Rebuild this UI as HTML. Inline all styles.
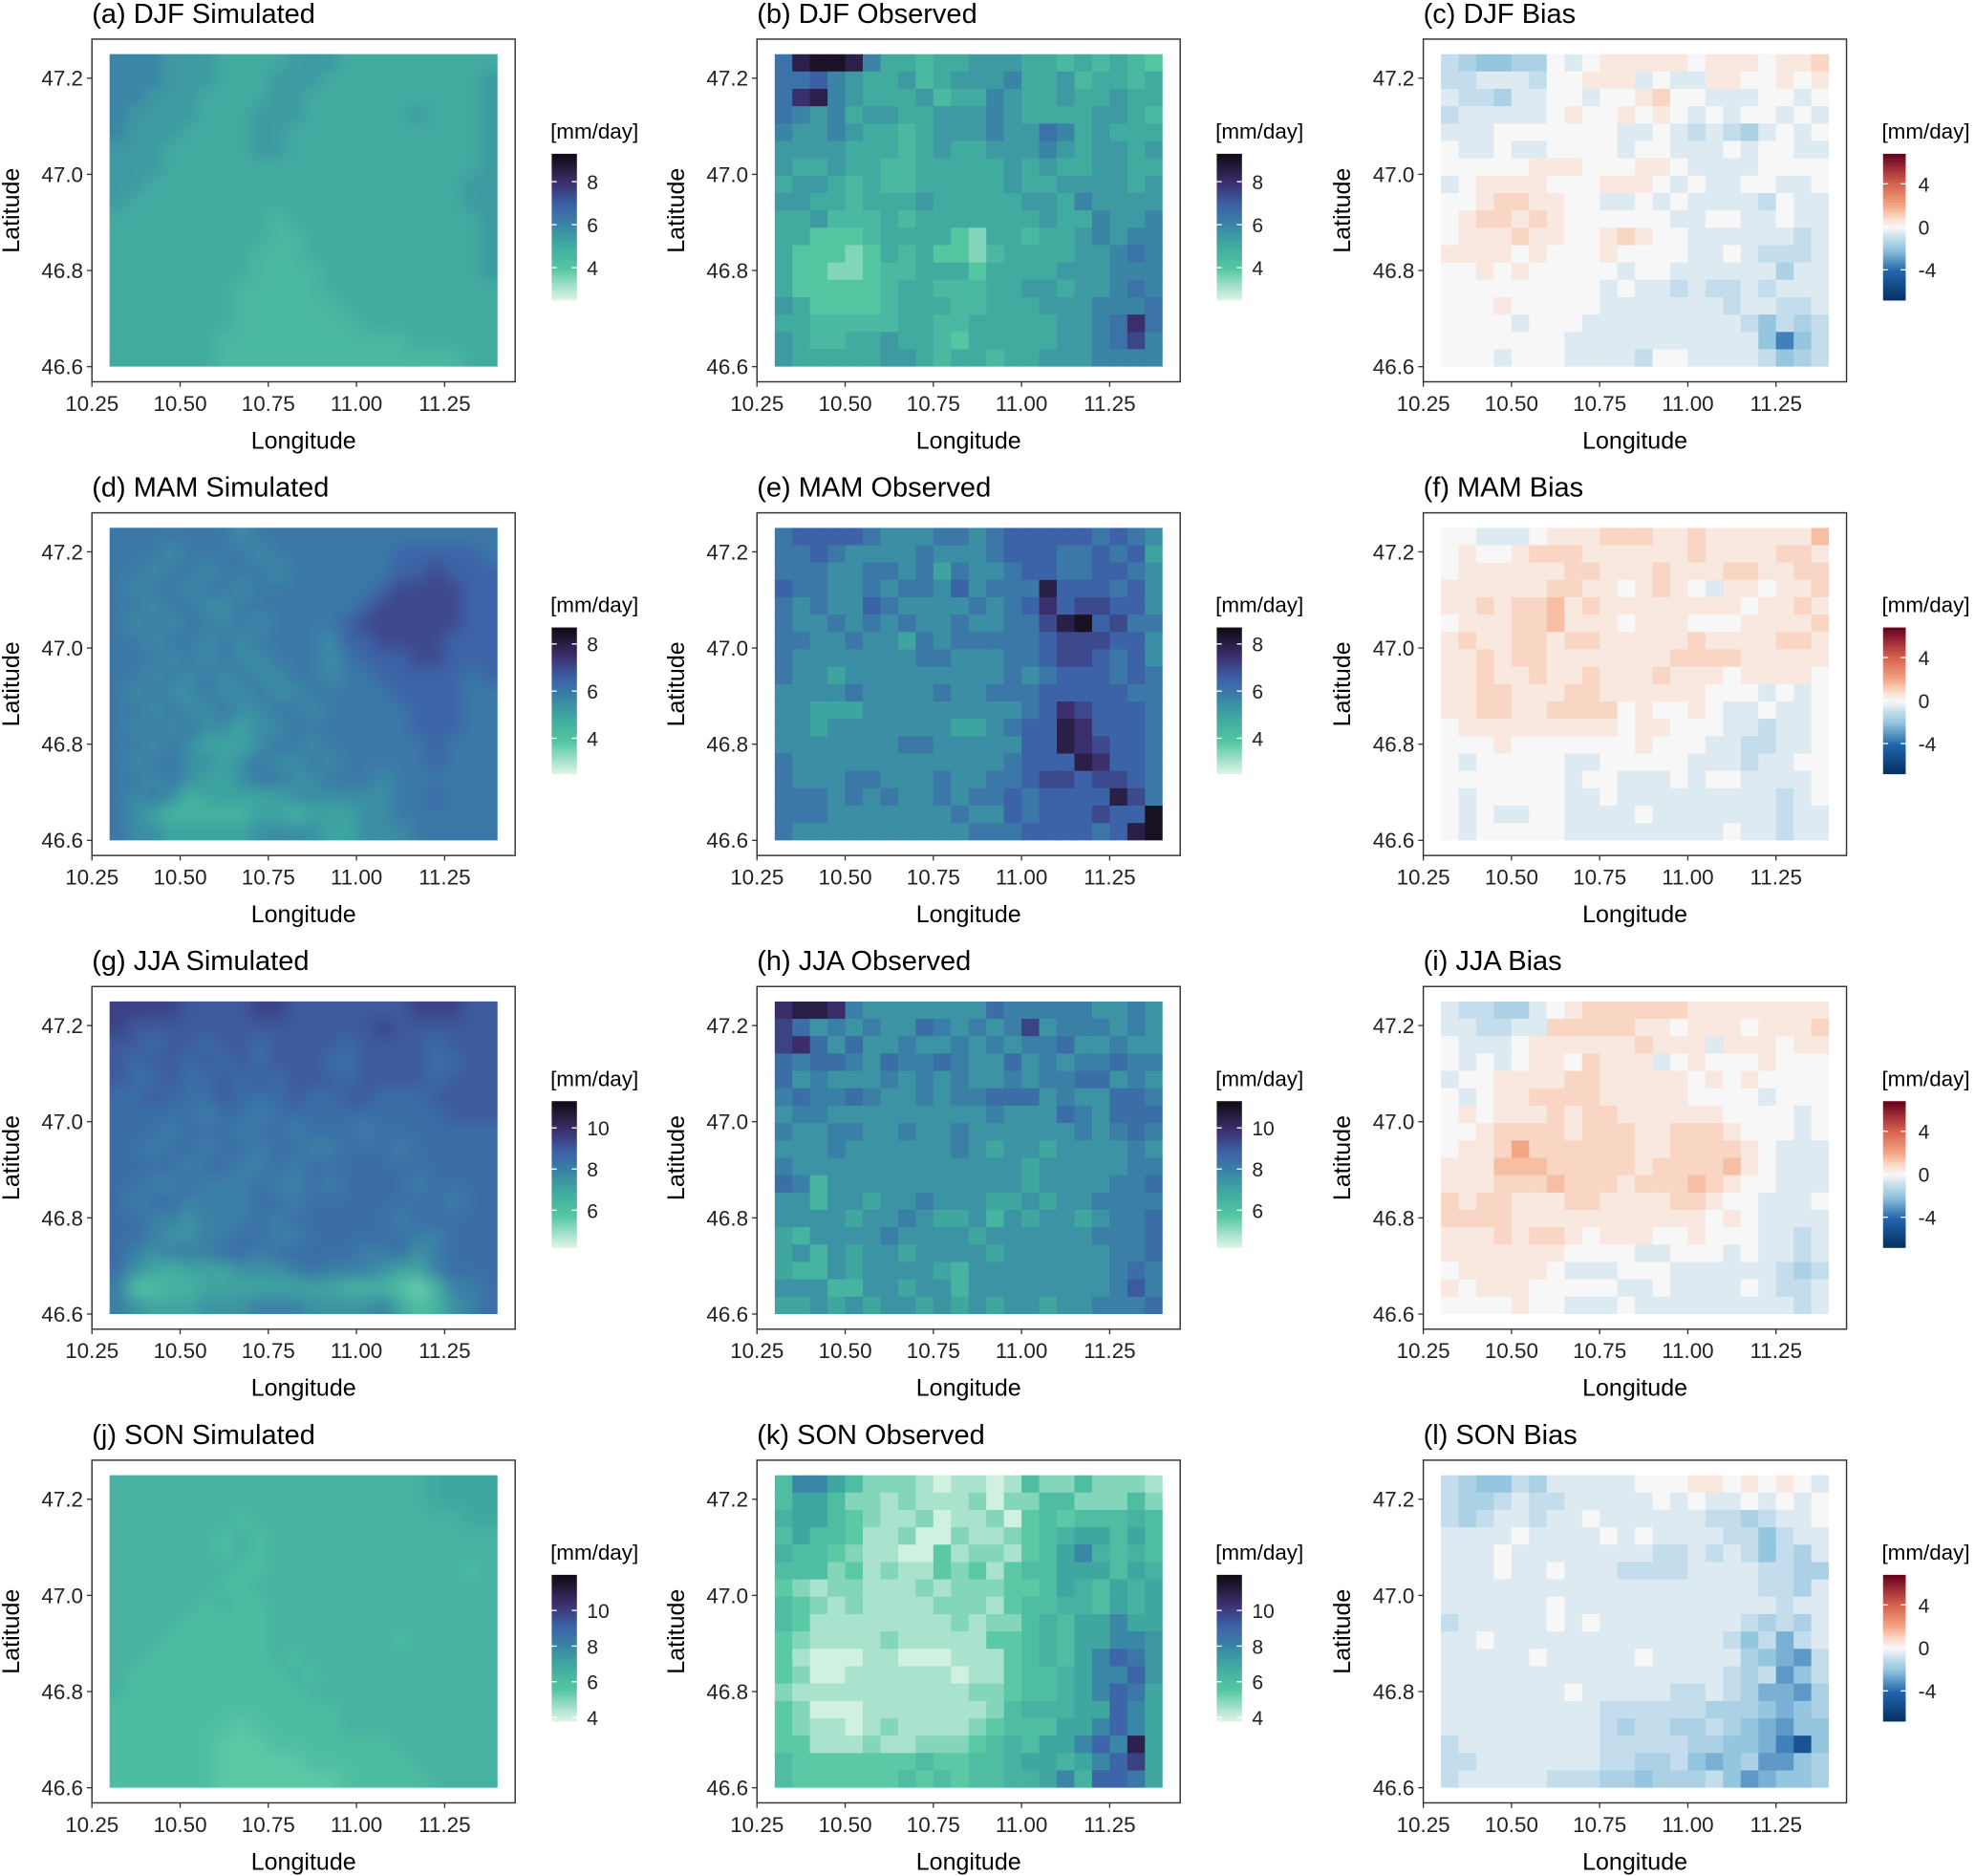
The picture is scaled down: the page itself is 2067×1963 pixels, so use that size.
<!DOCTYPE html>
<html><head><meta charset="utf-8"><title>Seasonal precipitation maps</title>
<style>
html,body{margin:0;padding:0;background:#fff;}
svg{display:block;font-family:"Liberation Sans",Arial,sans-serif;}
</style></head>
<body>
<svg id="fig" xmlns="http://www.w3.org/2000/svg" width="2067" height="1963" viewBox="0 0 1568 1489">
<defs>
<filter id="smooth" x="-10%" y="-10%" width="120%" height="120%"><feGaussianBlur stdDeviation="6"/></filter>
</defs>
</svg>
<script>
// ---- data (value grids encoded: index in ALPH * 0.5 ; bias subtract 6) ----
const ALPH = "0123456789abcdefghijklmnopqrstuvwxyz";
const panelTitles = ["(a) DJF Simulated","(b) DJF Observed","(c) DJF Bias","(d) MAM Simulated","(e) MAM Observed","(f) MAM Bias","(g) JJA Simulated","(h)  JJA Observed","(i) JJA Bias","(j) SON Simulated","(k) SON Observed","(l) SON Bias"];
const seasonRanges = [[2.5,9.3],[2.5,8.7],[4.2,11.3],[3.8,12]];
const seasonTicks = [[4,6,8],[4,6,8],[6,8,10],[4,6,8,10]];
const biasRange = [-6.8,6.8];
const biasTicks = [-4,0,4];
const lonTicks = [10.25,10.50,10.75,11.00,11.25];
const latTicks = [46.6,46.8,47.0,47.2];
const lonRange = [10.30,11.40];
const latRange = [46.60,47.25];

const gridA = ["cccbbbaaaabbbaaaaaaaaa","cccbbbaaabbbaaaaaaaaab","ccbbbaaaabbaaaaaaaaaab","cbbbbaaabbbaaaaaabaaab","cbbbaaaabbaaaaaaaaaaab","bbbaaaaabbaaaaaaaaaaab","bbbaaaaaaaaaaaaaaaaaab","bbaaaaaaaaaaaaaaaaaabb","baaaaaaaaaaaaaaaaaaabb","aaaaaaaaa9aaaaaaaaaaab","aaaaaaaaa99aaaaaaaaaab","aaaaaaaa999aaaaaaaaaab","aaaaaaaa9999aaaaaaaaab","aaaaaaa99999aaaaaaaaaa","aaaaaaa999999aaaaaaaaa","aaaaaaa9999999aaaaaaaa","aaaaaa99999999999aaaaa","aaaaaa99999999999999aa"];
const gridB = ["dhiihcaa9aabbbaa9a9a98","ddecbaab9abbbcaab9aa9a","dghcbaaab9aacbaabaabaa","dcbcabbaabbbcbaaaabba9","cbbcbaa9abbbcbbdcabaaa","bbbbaaa9abaabbbcbabbab","baabaa99aaaaababaabbaa","abba9a99aaaaabaabbbbab","bbaa9aaabaaaaabbacbbbb","aab999a9aaaaaaabaacbbc","aa8889aaaa87aa9aabcbcc","a88878a9a8879aaaabbcdc","a8877899aaa8aaaabbbccc","a888889aa999aabbabbcdc","ba88889aaa99aaabbbcccd","aa99999aa99aaaaabbcdgd","ba99aabaa98aaaaabbcdfc","baaaaabba9aa9aabbbcccc"];
const gridC = ["a98899cbcdddddcdddcdde","aabbbaccdddbcbbddccdcd","baa9bbccbccdeccbbbccbc","abbbbbcdccdcdcbcbccbcb","bbbcccccccbbcbaba9bcbc","cbbcbbccccbccbbbcbccbb","cccccdddcccddcbbbbcccc","bcddddcccdddcbcbbccbbc","ccdeeddccbbcbcbbbbacbb","cdeededccccccbbccbbcbb","cdddeddccdedccbbbbbbab","ddddcdcccdccccbbcbaaab","ccdcdcccccbccbbbbbb9bb","cccccccccbcbbabaababbb","cccdcccccbbbbbbbabbaab","ccccbcccbbbbbbbbba8a9a","cccccccbbbbbbbbbbb858a","cccbcccbbbbaccbbbba89a"];
const gridD = ["cccccccbcccccccccccccc","cccbccccbcccccccdddddc","ccbccbcccbccccccddeddd","cbccbccbcccccccdeeeedd","ccbccbbcccccccdeeeeedd","cbcbccbcbccccdeeeeeedd","ccbccbcbccccbddeeeeddd","cccbcbcbbcccbcdddeeddd","ccbcbcbcbbccbccdddddcd","cbcbbcbbcbbcccccddddcc","ccbcbbcbbccbcccccdddcc","cbcbcbbabbcccccccdddcc","ccbcbaaabccbccccccdccc","cbccbbabcbbcbcccccdccc","ccbcbaabccbbcccbcccccc","cbcb9aaaaabbbbbbccdccc","cba99999aa9aaabbcccccc","cbbaaaaabbbbaabbbccccc"];
const gridE = ["cddddcbbbccbcdddddcdcb","ccdcbbbbcbbbcdddccdcda","cccbbccbcacbbcddccddcb","dccbbcbccbdbcccgdddcdb","cbcbbdcbbbbcbcdfdeeddb","cbbcbcbcbbcbbcceghdecc","ccbbcbbacbcccccdeeeddb","cbbbbbbbccbbbccdeedcdb","cbbabbbbbbbbbcbcdddcdc","bbbbcbbbbcbbcccdddddcc","bbaaabbbbbbbbbcdfedddc","bbabbbbbbbaabcddgfdddc","bbbbbbbccbbbbbddgfeddc","cbbbbbbbbbbbbcdddgfddc","cbbbccbbbcbbccdeedeedc","cccbcbcbbcbccdcddddgec","cccbbbbbbbcbbdcdddeddh","cbbbbbbbbbbcccddddcdgh"];
const gridF = ["ccbbbcdddeeeddeddddddf","cdccdeeeddddddeddddeed","cddddddeedddedddeeddee","ddddddeeddcdedcbddcdde","ddedeefdeddddddddcdded","cdddeefdddcdddcccdddde","deddeedeedddddeddddeed","ddedeedddddddeeeeddddd","ddeddeddedddedddcddddc","ddeedddeeddddddcccbcbc","ddeeddeeeecdccdcbbcbbc","cdddddddddcddcccbbabbc","cccdcccccccdcccbbaabbc","cbcccccbbcccccbbbabbcc","cccccccbccbbbcbccbbbbc","cbcccccbbcbbbbbbbbbabc","cbcbbccbbbbcbbbbbbbabb","cbcccccbbbbbbbbbcbbabb"];
const gridG = ["jjjjiiiijjiiiiiiijjjii","jiiiiiiiiiiiiiijiiiiii","iihiihiihiiiihiiiihiii","ihiihihihiiihhiiiihhii","ihhihhihihiiihiiiihiii","hhihhhihhhihhiihhhiiii","hhhhhghhghhhhhhhhhhiii","hhhghhhghhghhhghhhhhhh","hhghhghhghhgghhhghhhhh","hhhhghhgghghhhhhhhhhhh","hhgghggghgghghhhhghhhh","hghhgggghhghhhhhhhhghh","hhggfggghghhhhhhghhhhh","hhgffgghhgghhhhhhgghhh","hgfggghhghhhhhgghfghhh","hfedeeefffghgggfeeghhh","gccddeeeeeeeedddcbdggh","gfeeefffgggffffgecdfgh"];
const gridH = ["kllkgfffffffhgggggffgf","jhfgfgffhgfgfgjfgggfgf","jkhfhffgffgfgfgghffgff","hghhgfhgghgffhfgfgghgg","hfgfffgfgfgffgfgghhfgf","ghgghgffgfgghhhfgffhhg","fggfffffffffgfffhgfhhh","gffggffgffgffffffgfghg","fffgffffffgfeffeffffgf","gfffffffffffffefffffgg","hgdfffffffffffeffffggh","ffdffeffgfffeefeffgggg","ffffeffgfeefdfeffefggh","edffffgffffeffffffgggh","efdfeffeffffeffffffggh","eddfeffffedffffffffghg","fffddffeffdffffffffgig","eefefeffefefeffeffgggh"];
const gridI = ["baa99bcdeeeeeedddddddd","bbaabbeeeeeddcdddcddde","cbbbcddddddedddbdddcdd","cbcbcddcedddbcdcccdccc","bccddddeedddddcdcdcccc","cbcddeeeedddddccccbccc","cdcdddedeeddddddccccbc","ccdeeeedeeeddeeedcccbc","cddegeeeeeeddeeeedcbbb","dddfffeeeeedeeeefdcbbb","dddeeefeeedeeefedccbbb","edeedddeeddddeedccbbbc","eeeedddddddddddcdcbbbb","dddedeedcdddccdcccbbab","dddddddccccbbcccbcbbab","cdddddcbbbcccbbbbbba9a","dcdddcccccbbcbbbbcbaab","ccccdccbbbcbbbbbbbbbab"];
const gridJ = ["ddddddddddddddddddeeee","ddddddddddddddddddeeee","dddddddcddddddddddddee","ddddddcdcddddddddddddd","ddddddcdcddddddddddddd","dddddddccdddddddddddcd","ddddddccdddddddddddddd","dddddcdccddddddddddddd","ddddcccccddddddddddddd","dddccccccdddddddcddddd","ddcccccccdcddddddddddd","dcccccccccdcdddddddddd","dccccccccccddddddddddd","cccccccccccccddddddddd","cccccccbcccccddddddddd","ccccccbbbcccccccdddddd","ccccccbbbbbccccccddddd","ccccccbbbbbbbcccccdddd"];
const gridK = ["cggecaaa989989caacaaa9","ceecaa9a999a8aaccaaaca","deecba99a899a8bcbcccdc","ceccb99a88a99abcdeecec","dccba9988b9aa9bcegdcdc","cccab9a99bab9bcceeeced","ba9aa999a9aaabbcedcede","cba9a9999aaa9bccddcede","cb99999999a9aacdceegee","ba9999a99999bbcdceeggf","b988899888999bcdcegihf","ba88999999899bccdeggif","a9999999999aabccdegihe","ba8889999999acdddeeige","ba9989a9999abccceegige","bb999a99aaabcdceegigme","cbbbbbbbcbbccdeedegike","cbbbbbbcbcbccddegdiihe"];
const gridL = ["a988a9bbbbbcccddcdcdcb","a99abaabbbbbcbcbbcbcbc","a9abbabbcbbbbbbaa9abbc","bbbbcbbbbcbcbbbbaa8abb","bbbcbbbbbbbbaababa8a9b","bbbcbbcbbbaaaabbbbaa99","bbbbbbbbbbbbbbbbbbaa9b","bbbbbbcbbbbbbbbbbbbabb","abbbbbcbcbbbbbbbba9a9b","bbcbbbbbbbbbbbbba8a7ab","bbbbbcbbbbbcbbbbb9876a","bbbbbbbbbbbbbbbba9a68a","bbbbbbbcbbbbbaaba97769","bbbbbbbbbaaaaaa9998789","bbbbbbbbba9aa99a987688","abbbbbbbbaaaaa99887528","aabbbbbbbaa99a87896689","abbbbbaaa998999a867889"];
const grids = [gridA,gridB,gridC,gridD,gridE,gridF,gridG,gridH,gridI,gridJ,gridK,gridL];

// ---- colour maps ----
const seqStops = [[0,[224,245,232]],[0.22,[84,198,162]],[0.4,[62,165,160]],[0.52,[58,132,166]],[0.65,[60,98,168]],[0.81,[59,46,108]],[1,[18,10,18]]];
const divStops = [[0,[5,48,97]],[0.2,[33,102,172]],[0.35,[146,197,222]],[0.44,[205,225,238]],[0.5,[247,247,247]],[0.56,[250,222,208]],[0.65,[244,165,130]],[0.8,[214,96,77]],[1,[103,0,31]]];
function ramp(stops,t){t=Math.max(0,Math.min(1,t));for(let i=1;i<stops.length;i++){if(t<=stops[i][0]){const a=stops[i-1],b=stops[i];const f=(t-a[0])/(b[0]-a[0]);return "rgb("+a[1].map((c,k)=>Math.round(c+(b[1][k]-c)*f)).join(",")+")";}}return "rgb("+stops[stops.length-1][1].join(",")+")";}

const NS="http://www.w3.org/2000/svg";
const svg=document.getElementById('fig');
function mk(tag,attrs,parent){const e=document.createElementNS(NS,tag);for(const k in attrs)e.setAttribute(k,attrs[k]);(parent||svg).appendChild(e);return e;}

// layout (display units of viewBox)
const colOff=[0,528,1057], rowOff=[0,376,752,1128];
const BOX={x0:73,y0:31,x1:409,y1:303};
function xs(lon,ox){return ox+73+(lon-10.25)*280;}
function ys(lat,oy){return oy+291-(lat-46.6)*381.7;}

for(let p=0;p<12;p++){
  const r=Math.floor(p/3), c=p%3, ox=colOff[c], oy=rowOff[r];
  const isBias=(c===2), isSim=(c===0);
  const rng=isBias?biasRange:seasonRanges[r];
  const ticks=isBias?biasTicks:seasonTicks[r];
  const g=mk('g',{});
  
  
  const title=mk('text',{x:ox+73,y:oy+18,'font-size':22,fill:'#000'},g);
  title.textContent=panelTitles[p];
  
  
  const frame=mk('rect',{x:ox+BOX.x0,y:oy+BOX.y0,width:BOX.x1-BOX.x0,height:BOX.y1-BOX.y0,fill:'#fff',stroke:'#333','stroke-width':1.1},g);
  
  
  // heatmap
  const grid=grids[p], nr=grid.length, nc=grid[0].length;
  const cid='clip'+p;
  const cp=mk('clipPath',{id:cid},g);
  mk('rect',{x:xs(lonRange[0],ox),y:ys(latRange[1],oy),width:xs(lonRange[1],ox)-xs(lonRange[0],ox),height:ys(latRange[0],oy)-ys(latRange[1],oy)},cp);
  const clipG=mk('g',{'clip-path':'url(#'+cid+')'},g);
  const hm=mk('g',isSim?{filter:'url(#smooth)'}:{},clipG);
  
  
  const dLon=(lonRange[1]-lonRange[0])/nc, dLat=(latRange[1]-latRange[0])/nr;
  const pad=isSim?20:0;
  for(let i=0;i<nr;i++)for(let j=0;j<nc;j++){
    let v=ALPH.indexOf(grid[i][j])*0.5; if(isBias)v-=6;
    const t=(v-rng[0])/(rng[1]-rng[0]);
    let x0=xs(lonRange[0]+j*dLon,ox), x1=xs(lonRange[0]+(j+1)*dLon,ox);
    let y0=ys(latRange[1]-i*dLat,oy), y1=ys(latRange[1]-(i+1)*dLat,oy);
    if(j===0)x0-=pad; if(j===nc-1)x1+=pad; if(i===0)y0-=pad; if(i===nr-1)y1+=pad;
    const cell=mk('rect',{x:x0,y:y0,width:x1-x0+0.6,height:y1-y0+0.6,fill:ramp(isBias?divStops:seqStops,t)},hm);
    
    
  }
  // axes ticks
  for(const lon of lonTicks){
    const x=xs(lon,ox);
    mk('line',{x1:x,x2:x,y1:oy+BOX.y1,y2:oy+BOX.y1+4,stroke:'#333','stroke-width':1},g);
    const t=mk('text',{x:x,y:oy+326,'font-size':17,'text-anchor':'middle',fill:'#222'},g);
    t.textContent=lon.toFixed(2);
    
    
  }
  for(const lat of latTicks){
    const y=ys(lat,oy);
    mk('line',{x1:ox+BOX.x0-4,x2:ox+BOX.x0,y1:y,y2:y,stroke:'#333','stroke-width':1},g);
    const t=mk('text',{x:ox+66,y:y+6,'font-size':17,'text-anchor':'end',fill:'#222'},g);
    t.textContent=lat.toFixed(1);
    
    
  }
  const xl=mk('text',{x:ox+241,y:oy+356,'font-size':19,'text-anchor':'middle',fill:'#000'},g);
  xl.textContent='Longitude';
  
  
  const yl=mk('text',{x:0,y:0,'font-size':19,'text-anchor':'middle',fill:'#000',transform:'translate('+(ox+15)+','+(oy+167)+') rotate(-90)'},g);
  yl.textContent='Latitude';
  
  
  // legend
  const lt=mk('text',{x:ox+437,y:oy+110,'font-size':17,fill:'#000'},g);
  lt.textContent='[mm/day]';
  
  
  const bar=mk('g',{},g);
  
  
  const bx=ox+438, bw=isBias?18:20, bt=oy+122, bb=oy+238, N=58;
  for(let k=0;k<N;k++){
    const t=(k+0.5)/N;
    mk('rect',{x:bx,y:bb-(k+1)*(bb-bt)/N,width:bw,height:(bb-bt)/N+0.5,fill:ramp(isBias?divStops:seqStops,t)},bar);
  }
  for(const tv of ticks){
    const y=bb-(tv-rng[0])/(rng[1]-rng[0])*(bb-bt);
    mk('line',{x1:bx,x2:bx+4,y1:y,y2:y,stroke:'#fff','stroke-width':1},bar);
    mk('line',{x1:bx+bw-4,x2:bx+bw,y1:y,y2:y,stroke:'#fff','stroke-width':1},bar);
    const tl=mk('text',{x:bx+28,y:y+6,'font-size':16,fill:'#222'},g);
    tl.textContent=String(tv);
    
    
  }
}
</script>
</body></html>
